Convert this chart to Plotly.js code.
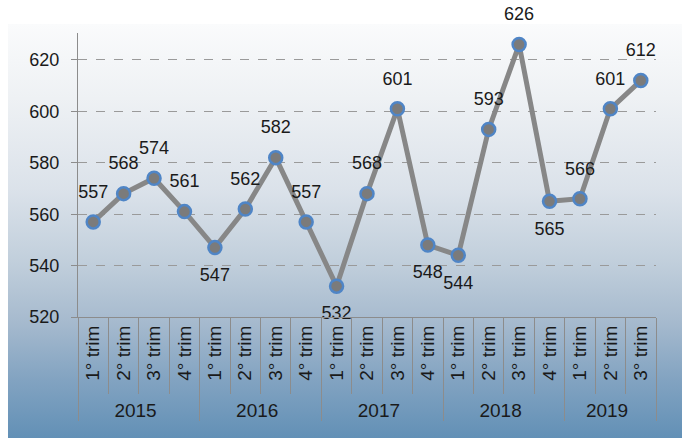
<!DOCTYPE html>
<html>
<head>
<meta charset="utf-8">
<script src="https://cdn.plot.ly/plotly-3.0.1.min.js"></script>
<style>
  html, body { margin: 0; padding: 0; background: #ffffff; }
  #chart {
    width: 682px; height: 438px;
    background: linear-gradient(to bottom, #fafbfc 0%, #eef1f4 18%, #dbe2ea 40%, #c0cedb 58%, #a6bace 72%, #82a3c1 86%, #6290b6 100%) no-repeat 8px 24px / 674px 414px;
    background-color: #ffffff;
  }
</style>
</head>
<body>
<div id="chart"></div>
<script>
// ---- data ----
const years = ['2015','2015','2015','2015','2016','2016','2016','2016','2017','2017','2017','2017','2018','2018','2018','2018','2019','2019','2019'];
const quarters = ['1° trim','2° trim','3° trim','4° trim','1° trim','2° trim','3° trim','4° trim','1° trim','2° trim','3° trim','4° trim','1° trim','2° trim','3° trim','4° trim','1° trim','2° trim','3° trim'];
const values = [557, 568, 574, 561, 547, 562, 582, 557, 532, 568, 601, 548, 544, 593, 626, 565, 566, 601, 612];
const yTicks = [520, 540, 560, 580, 600, 620];

// indices whose value label sits under the point
const belowIdx = [4, 8, 11, 12, 15];
const textPos = values.map((v, i) => (belowIdx.includes(i) ? 'bottom center' : 'top center'));

const FONT = 'Liberation Sans, Arial, sans-serif';

const lineTrace = {
  type: 'scatter',
  mode: 'lines+markers',
  x: [years, quarters],
  y: values,
  line: { color: '#878787', width: 5 },
  marker: { size: 13, color: '#7b7b7b', line: { color: '#4f85c6', width: 2.5 } },
  cliponaxis: false,
  hoverinfo: 'skip'
};

// value labels (invisible larger markers push the text further from the points)
const labelTrace = {
  type: 'scatter',
  mode: 'markers+text',
  x: [years, quarters],
  y: values,
  text: values.map(String),
  textposition: textPos,
  textfont: { family: FONT, size: 18, color: '#1a1a1a' },
  marker: { size: 30, opacity: 0, color: '#000' },
  cliponaxis: false,
  hoverinfo: 'skip'
};

const layout = {
  width: 682, height: 438,
  margin: { l: 78, r: 26, t: 33, b: 121 },
  paper_bgcolor: 'rgba(0,0,0,0)',
  plot_bgcolor: 'rgba(0,0,0,0)',
  showlegend: false,
  font: { family: FONT, size: 18, color: '#1a1a1a' },
  xaxis: {
    type: 'multicategory',
    range: [-0.5, 18.5],
    showline: true, linecolor: '#8c8c8c', linewidth: 1,
    ticks: 'outside', tickson: 'boundaries', ticklen: 76, tickcolor: '#8c8c8c', tickwidth: 1,
    tickangle: -90,
    tickfont: { family: FONT, size: 19, color: '#1a1a1a' },
    showdividers: true, dividercolor: '#8c8c8c', dividerwidth: 1,
    showgrid: false, zeroline: false
  },
  yaxis: {
    range: [520, 630.5],
    tickvals: yTicks,
    ticktext: yTicks.map(String),
    showline: true, linecolor: '#8c8c8c', linewidth: 1,
    ticks: 'outside', ticklen: 6, tickcolor: '#8c8c8c',
    ticklabelstandoff: 8,
    showgrid: true, gridcolor: '#9a9a9a', griddash: 'dash', gridwidth: 1,
    zeroline: false,
    tickfont: { family: FONT, size: 18, color: '#1a1a1a' }
  }
};

Plotly.newPlot('chart', [lineTrace, labelTrace], layout, { displayModeBar: false, staticPlot: true });
</script>
</body>
</html>
